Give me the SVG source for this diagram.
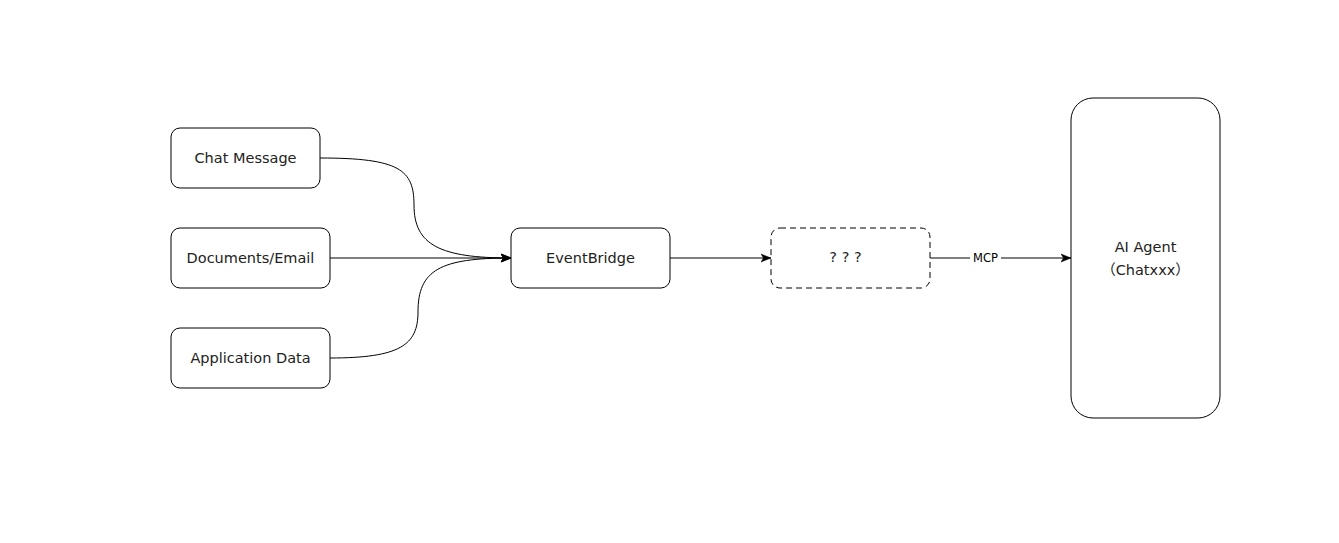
<svg xmlns="http://www.w3.org/2000/svg" width="1339" height="543" viewBox="0 0 1339 543">
<style>
.box{fill:#fff;stroke:#000;stroke-width:1}
.dash{stroke-dasharray:6 4}
.t{font-family:"Comic Sans MS","DejaVu Sans","Noto Sans CJK SC",sans-serif;font-size:14.5px;fill:#222;text-anchor:middle;dominant-baseline:central}
.c{fill:none;stroke:#000;stroke-width:1;marker-end:url(#arr)}
.lbl{font-family:"DejaVu Sans",sans-serif;font-size:11.5px;fill:#000;text-anchor:middle;dominant-baseline:central}
</style>
<defs>
<marker id="arr" viewBox="0 0 10 10" refX="10" refY="5" markerWidth="10" markerHeight="10" markerUnits="userSpaceOnUse" orient="auto">
<path d="M0,1 L10,5 L0,9 L2.5,5 Z" fill="#000" stroke="#000" stroke-width="0.5"/>
</marker>
</defs>
<rect width="1339" height="543" fill="#fff"/>
<g id="connectors">
<path class="c" d="M320,158 C400,158 414,170 414,205 C414,245 440,258 511,258"/>
<path class="c" d="M330,258 L511,258"/>
<path class="c" d="M330,358 C400,358 418,345 418,312 C418,270 440,258 511,258"/>
<path class="c" d="M670,258 L771,258"/>
<path class="c" d="M930,258 L1071,258"/>
<rect x="970" y="250" width="31" height="16" fill="#fff"/>
<text class="lbl" x="985.5" y="258">MCP</text>
</g>
<g id="chat-message">
<rect class="box" x="171" y="128" width="149" height="60" rx="9"/>
<text class="t" x="245.5" y="158">Chat Message</text>
</g>
<g id="documents-email">
<rect class="box" x="171" y="228" width="159" height="60" rx="9"/>
<text class="t" x="250.5" y="258">Documents/Email</text>
</g>
<g id="application-data">
<rect class="box" x="171" y="328" width="159" height="60" rx="9"/>
<text class="t" x="250.5" y="358">Application Data</text>
</g>
<g id="eventbridge">
<rect class="box" x="511" y="228" width="159" height="60" rx="9"/>
<text class="t" x="590.5" y="258">EventBridge</text>
</g>
<g id="unknown">
<rect class="box dash" x="771" y="228" width="159" height="60" rx="9"/>
<text class="t" x="845.5" y="257">? ? ?</text>
</g>
<g id="ai-agent">
<rect class="box" x="1071" y="98" width="149" height="320" rx="22"/>
<text class="t" x="1145.5" y="247">AI Agent</text>
<text class="t" x="1145.5" y="270">（Chatxxx）</text>
</g>
</svg>
